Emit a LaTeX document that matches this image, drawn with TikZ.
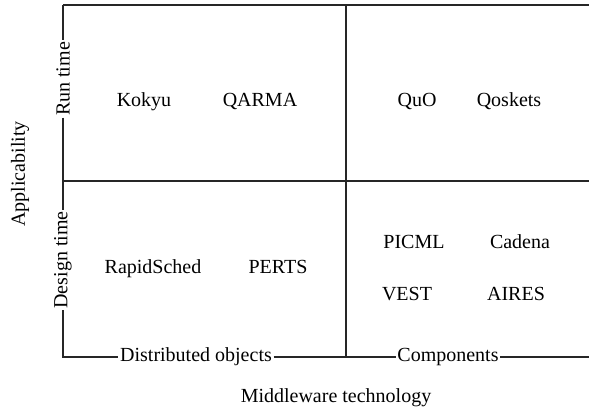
\documentclass[tikz,border=0pt]{standalone}
\usepackage{fontspec}
\setmainfont{Liberation Serif}
\begin{document}
\begin{tikzpicture}[x=1pt,y=-1pt,
  lbl/.style={font=\fontsize{20}{22}\selectfont, inner sep=0pt},
  item/.style={font=\fontsize{20}{22}\selectfont, inner sep=0pt, anchor=base},
  axlbl/.style={font=\fontsize{20}{22}\selectfont, inner sep=1.5pt},
  ln/.style={line width=1.3pt, draw=black!85}]
\useasboundingbox (0,0) rectangle (589,416);
\coordinate (tl) at (63,5);
\coordinate (tr) at (589,5);
\coordinate (ml) at (63,181);
\coordinate (mr) at (589,181);
\coordinate (bl) at (63,357);
\coordinate (br) at (589,357);
\coordinate (vt) at (346,5);
\coordinate (vb) at (346,357);
\node[axlbl, rotate=90] (run) at (63,79) {Run time};
\node[axlbl, rotate=90] (des) at (63,260) {Design time};
\node[axlbl] (dist) at (196,357) {Distributed objects};
\node[axlbl] (comp) at (448,357) {Components};
\node[lbl, rotate=90] (app) at (20,174) {Applicability};
\node[lbl] (mw) at (336,398) {Middleware technology};
\draw[ln] (tl) -- (tr);
\draw[ln] (ml) -- (mr);
\draw[ln] (vt) -- (vb);
\draw[ln] (tl) -- (run.east);
\draw[ln] (run.west) -- (des.east);
\draw[ln] (des.west) -- (bl) -- (dist.west);
\draw[ln] (dist.east) -- (comp.west);
\draw[ln] (comp.east) -- (br);
\node[item] (kokyu) at (144,106) {Kokyu};
\node[item] (qarma) at (260,106) {QARMA};
\node[item] (quo) at (417,106) {QuO};
\node[item] (qosk) at (509,106) {Qoskets};
\node[item] (rapid) at (153,273) {RapidSched};
\node[item] (perts) at (278,273) {PERTS};
\node[item] (picml) at (414,248) {PICML};
\node[item] (cadena) at (520,248) {Cadena};
\node[item] (vest) at (407,300) {VEST};
\node[item] (aires) at (516,300) {AIRES};
\end{tikzpicture}
\end{document}
